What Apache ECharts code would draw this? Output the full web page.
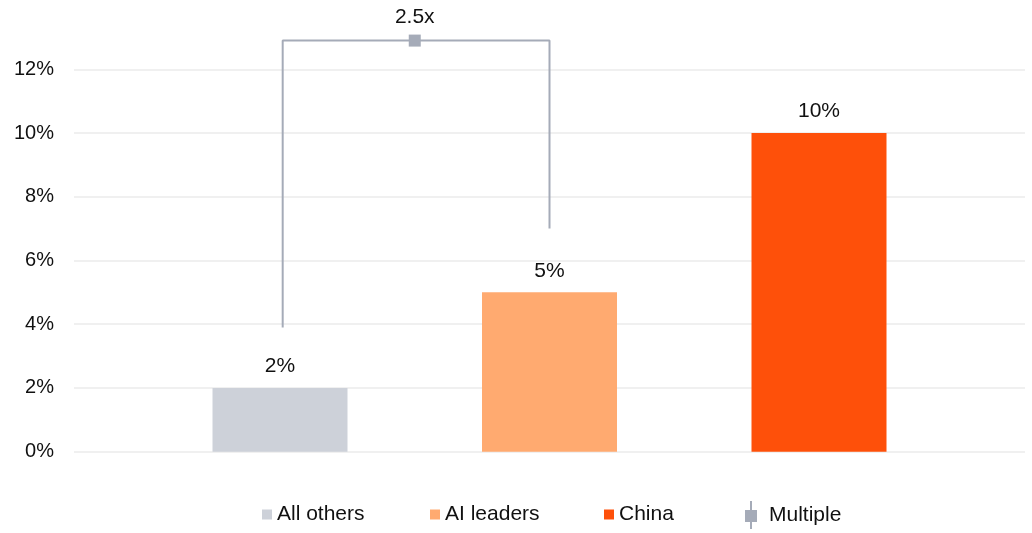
<!DOCTYPE html>
<html>
<head>
<meta charset="utf-8">
<style>
  html, body { margin: 0; padding: 0; background: #ffffff; }
  #chart { width: 1032px; height: 533px; }
</style>
<script src="https://cdn.jsdelivr.net/npm/echarts@6/dist/echarts.min.js"></script>
</head>
<body>
<div id="chart"></div>
<script>
// ---- data ----
const categories = ['All others', 'AI leaders', 'China'];
const categoryX = [1, 2, 3];
const values = [0.02, 0.05, 0.10];
const barColors = ['#cdd1d9', '#ffaa70', '#fe500a'];
const yTicks = [0, 0.02, 0.04, 0.06, 0.08, 0.10, 0.12];
const bracketX = [1.01, 1.01, 2, 2];
const bracketY = [0.039, 0.129, 0.129, 0.07];
const multipleX = [1.5];
const multipleY = [0.129];
const multipleLabels = ['2.5x'];

const FONT = "'Liberation Sans', Arial, Helvetica, sans-serif";
const TXT = '#111111';
const BRACKET = '#a5abb8';

const chart = echarts.init(document.getElementById('chart'), null, { renderer: 'canvas' });

const pct = v => Math.round(v * 100) + '%';

const barSeries = categories.map((name, i) => ({
  name: name,
  type: 'bar',
  xAxisIndex: 1,
  yAxisIndex: 1,
  barWidth: 135,
  barGap: '-100%',
  itemStyle: { color: barColors[i] },
  label: {
    show: true,
    position: 'top',
    distance: 11,
    fontFamily: FONT,
    fontSize: 21,
    color: TXT,
    formatter: p => pct(p.value[1])
  },
  data: [[categoryX[i], values[i]]]
}));

const option = {
  backgroundColor: '#ffffff',
  animation: false,
  textStyle: { fontFamily: FONT },
  grid: [
    { left: 74, right: 7, top: 69.3, bottom: 81.3 },
    { left: 145.25, right: 78.25, top: 37.4, bottom: 81.3 }
  ],
  xAxis: [
    { gridIndex: 0, type: 'value', min: 0, max: 1, show: false },
    { gridIndex: 1, type: 'value', min: 0.5, max: 3.5, show: false }
  ],
  yAxis: [
    {
      gridIndex: 0, type: 'value', min: yTicks[0], max: yTicks[yTicks.length - 1], interval: 0.02,
      axisLine: { show: false }, axisTick: { show: false },
      axisLabel: { fontFamily: FONT, fontSize: 20, color: TXT, margin: 20, formatter: v => pct(v) },
      splitLine: { show: true, lineStyle: { color: '#ebebeb', width: 1.5 } }
    },
    { gridIndex: 1, type: 'value', min: 0, max: 0.13, show: false, splitLine: { show: false } }
  ],
  legend: [
    { data: [{ name: categories[0], icon: 'rect' }], left: 262, top: 504, padding: 0,
      itemWidth: 10, itemHeight: 10, textStyle: { fontFamily: FONT, fontSize: 21, color: TXT } },
    { data: [{ name: categories[1], icon: 'rect' }], left: 430, top: 504, padding: 0,
      itemWidth: 10, itemHeight: 10, textStyle: { fontFamily: FONT, fontSize: 21, color: TXT } },
    { data: [{ name: categories[2], icon: 'rect' }], left: 604, top: 504, padding: 0,
      itemWidth: 10, itemHeight: 10, textStyle: { fontFamily: FONT, fontSize: 21, color: TXT } },
    { data: [{ name: 'Multiple', icon: 'path://M5,0 L7,0 L7,9 L12,9 L12,21 L7,21 L7,28 L5,28 L5,21 L0,21 L0,9 L5,9 Z' }],
      left: 745, top: 501, padding: 0, itemWidth: 26, itemHeight: 28,
      itemStyle: { opacity: 1 },
      textStyle: { fontFamily: FONT, fontSize: 21, color: TXT } }
  ],
  series: barSeries.concat([
    {
      name: 'Bracket',
      type: 'line',
      xAxisIndex: 1,
      yAxisIndex: 1,
      showSymbol: false,
      symbol: 'none',
      lineStyle: { color: BRACKET, width: 2 },
      silent: true,
      data: bracketX.map((x, i) => [x, bracketY[i]])
    },
    {
      name: 'Multiple',
      type: 'scatter',
      xAxisIndex: 1,
      yAxisIndex: 1,
      symbol: 'rect',
      symbolSize: 12,
      itemStyle: { color: BRACKET, opacity: 1 },
      label: {
        show: true,
        position: 'top',
        distance: 7,
        fontFamily: FONT,
        fontSize: 21,
        color: TXT,
        opacity: 1,
        formatter: p => multipleLabels[p.dataIndex]
      },
      data: multipleX.map((x, i) => [x, multipleY[i]])
    }
  ])
};

chart.setOption(option);
</script>
</body>
</html>
